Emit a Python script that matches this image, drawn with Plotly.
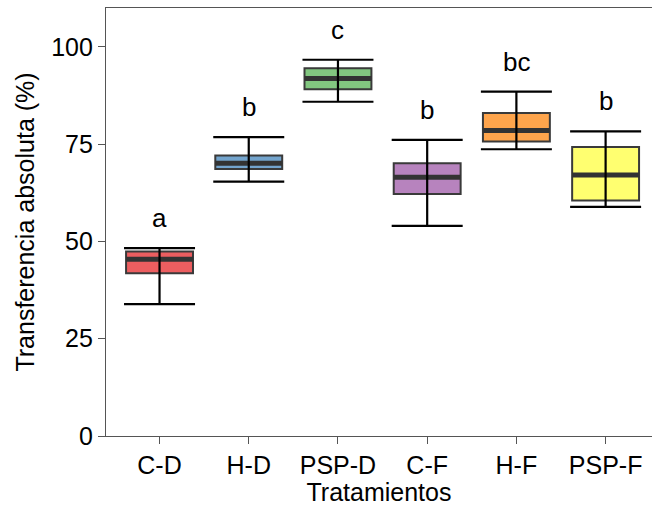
import plotly.graph_objects as go

categories = ["C-D", "H-D", "PSP-D", "C-F", "H-F", "PSP-F"]
lower = [33.9, 65.4, 85.9, 54.0, 73.7, 58.9]
q1 = [41.8, 68.6, 89.1, 62.2, 75.7, 60.5]
median = [45.4, 70.1, 91.85, 66.5, 78.5, 67.1]
q3 = [47.4, 72.1, 94.5, 70.1, 83.0, 74.3]
upper = [48.3, 76.8, 96.7, 76.1, 88.5, 78.3]
letters = ["a", "b", "c", "b", "bc", "b"]
fills = ["rgba(228,26,28,0.7)", "rgba(55,126,184,0.7)", "rgba(77,175,74,0.7)",
         "rgba(152,78,163,0.7)", "rgba(255,127,0,0.7)", "rgba(255,255,51,0.7)"]

pos = list(range(1, len(categories) + 1))
BOXW = 0.75

fig = go.Figure()
for i, c in enumerate(categories):
    fig.add_trace(go.Box(
        x=[pos[i]], q1=[q1[i]], median=[median[i]], q3=[q3[i]],
        lowerfence=[q1[i]], upperfence=[q3[i]],
        width=BOXW, fillcolor=fills[i],
        line=dict(color="#3a3a3a", width=2),
        boxpoints=False, showlegend=False, hoverinfo="skip"))
    # thick median line
    fig.add_trace(go.Scatter(
        x=[pos[i] - BOXW / 2, pos[i] + BOXW / 2], y=[median[i], median[i]],
        mode="lines", line=dict(color="#333333", width=5),
        showlegend=False, hoverinfo="skip"))

# error bars (min-max)
fig.add_trace(go.Scatter(
    x=pos, y=median, mode="markers", marker=dict(size=1, opacity=0),
    error_y=dict(type="data", symmetric=False,
                 array=[u - m for u, m in zip(upper, median)],
                 arrayminus=[m - l for m, l in zip(median, lower)],
                 color="black", thickness=2.2, width=35.5),
    showlegend=False, hoverinfo="skip"))

for i, t in enumerate(letters):
    fig.add_annotation(x=pos[i], y=upper[i], text=t, showarrow=False,
                       yanchor="bottom", yshift=13,
                       font=dict(family="Liberation Sans, Arial", size=26, color="black"))

axis_col = "#555555"
fig.update_layout(
    width=652, height=506,
    margin=dict(l=106, r=0, t=8, b=70),
    paper_bgcolor="white", plot_bgcolor="white",
    font=dict(family="Liberation Sans, Arial", color="black"),
    xaxis=dict(range=[0.4, 6.52], tickmode="array", tickvals=pos, ticktext=categories,
               showgrid=False, zeroline=False, showline=True, linecolor=axis_col,
               linewidth=1.3, mirror=True, ticks="outside", ticklen=7, tickwidth=1.3,
               tickcolor=axis_col, tickfont=dict(size=25, color="black"),
               title=dict(text="Tratamientos", font=dict(size=25, color="black"), standoff=3)),
    yaxis=dict(range=[0, 110], tickvals=[0, 25, 50, 75, 100],
               showgrid=False, zeroline=False, showline=True, linecolor=axis_col,
               linewidth=1.3, ticks="outside", ticklen=7, tickwidth=1.3,
               tickcolor=axis_col, tickfont=dict(size=25, color="black"),
               title=dict(text="Transferencia absoluta (%)", font=dict(size=25, color="black"),
                          standoff=9)),
)

fig.write_html("out.html")
